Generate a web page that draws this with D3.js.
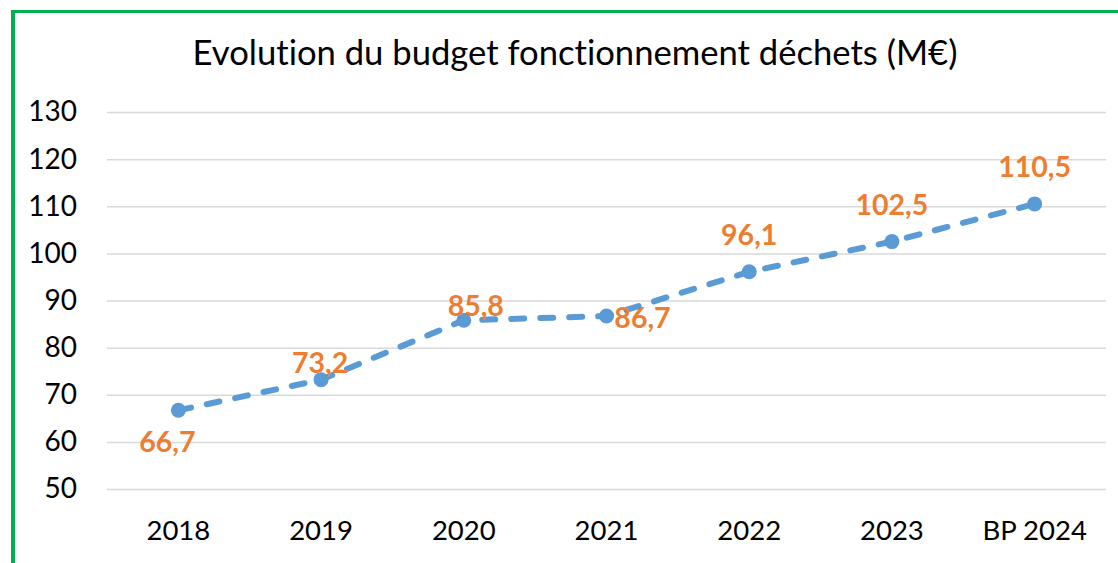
<!DOCTYPE html>
<html>
<head>
<meta charset="utf-8">
<script src="https://cdn.jsdelivr.net/npm/d3@7"></script>
<style>
  html, body { margin: 0; padding: 0; background: #fff; }
  svg { display: block; }
  svg text { font-variant-ligatures: none; font-feature-settings: "liga" 0, "clig" 0, "dlig" 0; }
</style>
</head>
<body>
<svg id="chart" width="1118" height="563"></svg>
<script>
const categories = ["2018", "2019", "2020", "2021", "2022", "2023", "BP 2024"];
const values = [66.7, 73.2, 85.8, 86.7, 96.1, 102.5, 110.5];
const valueLabels = ["66,7", "73,2", "85,8", "86,7", "96,1", "102,5", "110,5"];
const yTicks = [50, 60, 70, 80, 90, 100, 110, 120, 130];
const title = "Evolution du budget fonctionnement déchets (M€)";

(function () {
const W = 1118, H = 563;
const FONT = "Lato, 'Open Sans', sans-serif";
const svg = d3.select("#chart");

// green frame (continues beyond right / bottom edges)
svg.append("path")
  .attr("d", `M12.5,${H + 10} L12.5,11.5 L${W + 10},11.5`)
  .attr("fill", "none")
  .attr("stroke", "#00B050")
  .attr("stroke-width", 3);
svg.append("line")
  .attr("x1", 13).attr("x2", 13).attr("y1", 11).attr("y2", H + 10)
  .attr("stroke", "#00B050").attr("stroke-width", 4);

const pLeft = 107, pRight = 1106, pTop = 112, pBottom = 489;

const x = d3.scaleBand().domain(categories).range([pLeft, pRight]).padding(0);
const cx = c => x(c) + x.bandwidth() / 2;
const y = d3.scaleLinear().domain([50, 130]).range([pBottom, pTop]);

// title, fitted to width
const t = svg.append("text")
  .attr("x", 575).attr("y", 65)
  .attr("text-anchor", "middle")
  .attr("font-family", FONT)
  .attr("font-size", 30)
  .attr("fill", "#000")
  .style("font-variant-ligatures", "none")
  .text(title);
const tw = t.node().getComputedTextLength();
t.attr("font-size", 30 * 765 / tw);

// y axis + gridlines
const yAxis = svg.append("g")
  .attr("transform", `translate(${pLeft},0)`)
  .call(d3.axisLeft(y).tickValues(yTicks).tickSize(-(pRight - pLeft)).tickPadding(30));
yAxis.select(".domain").remove();
yAxis.selectAll(".tick line").attr("stroke", "#D9D9D9").attr("stroke-width", 1.5);
yAxis.selectAll(".tick text")
  .attr("font-family", FONT).attr("font-size", 28).attr("fill", "#000");

// x axis
const xAxis = svg.append("g")
  .attr("transform", `translate(0,${pBottom})`)
  .call(d3.axisBottom(x).tickSize(0));
xAxis.select(".domain").remove();
xAxis.selectAll(".tick text")
  .attr("y", 51).attr("dy", 0)
  .attr("font-family", FONT).attr("font-size", 27.5).attr("fill", "#000");

// line
const data = categories.map((c, i) => ({ c, v: values[i], l: valueLabels[i] }));
const line = d3.line().x(d => cx(d.c)).y(d => y(d.v));
svg.append("path")
  .datum(data)
  .attr("d", line)
  .attr("fill", "none")
  .attr("stroke", "#5B9BD5")
  .attr("stroke-width", 6)
  .attr("stroke-linecap", "round")
  .attr("stroke-dasharray", "13,16");

svg.selectAll("circle.pt")
  .data(data).join("circle")
  .attr("class", "pt")
  .attr("cx", d => cx(d.c)).attr("cy", d => y(d.v))
  .attr("r", 7.5)
  .attr("fill", "#5B9BD5");

// data labels (placement offsets relative to each point)
const labelOffsets = [[-11, 42], [-1, -7], [12, -4], [36, 12], [0, -27], [0, -27], [0, -27]];
svg.selectAll("text.lbl")
  .data(data).join("text")
  .attr("class", "lbl")
  .attr("x", (d, i) => cx(d.c) + labelOffsets[i][0])
  .attr("y", (d, i) => y(d.v) + labelOffsets[i][1])
  .attr("text-anchor", "middle")
  .attr("font-family", FONT)
  .attr("font-weight", "bold")
  .attr("font-size", 28.5)
  .attr("fill", "#ED7D31")
  .text(d => d.l);
})();
</script>
</body>
</html>
